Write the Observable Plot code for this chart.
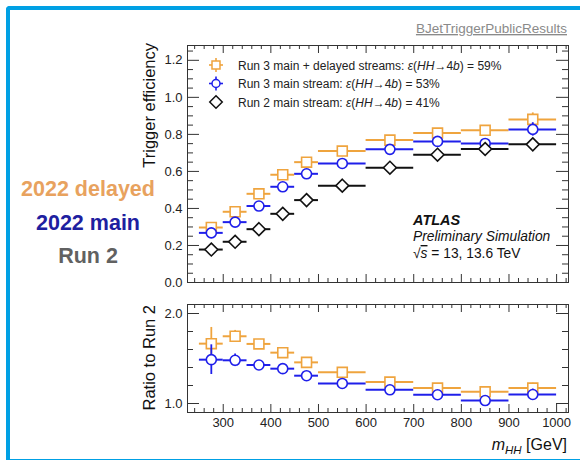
<!DOCTYPE html>
<html><head><meta charset="utf-8">
<script src="https://cdn.jsdelivr.net/npm/d3@7"></script>
<script src="https://cdn.jsdelivr.net/npm/@observablehq/plot@0.6"></script>
<style>
body{margin:0;background:#fff;}
#wrap{position:relative;width:580px;height:460px;overflow:hidden;background:#fff;font-family:"Liberation Sans",Arial,Helvetica,sans-serif;}
#border{position:absolute;left:6px;top:6px;width:600px;height:449px;border-top:4px solid #00A0E4;border-left:4px solid #00A0E4;border-bottom:2px solid #00A0E4;border-top-left-radius:4px;}
#wrap svg{position:absolute;left:0;}
</style></head>
<body><div id="wrap"><div id="border"></div></div>
<script>
// ---------------- data ----------------
const binLo = [250, 300, 350, 400, 450, 500, 600, 700, 800, 900];
const binHi = [300, 350, 400, 450, 500, 600, 700, 800, 900, 1000];

const effDelayed = [0.297, 0.382, 0.479, 0.582, 0.650, 0.710, 0.769, 0.807, 0.822, 0.881];
const errDelayed = [0.010, 0.010, 0.008, 0.008, 0.008, 0.006, 0.006, 0.008, 0.012, 0.035];
const effMain    = [0.268, 0.326, 0.413, 0.517, 0.587, 0.643, 0.719, 0.762, 0.751, 0.827];
const errMain    = [0.010, 0.010, 0.008, 0.008, 0.008, 0.006, 0.006, 0.008, 0.012, 0.036];
const effRun2    = [0.178, 0.220, 0.288, 0.371, 0.445, 0.523, 0.620, 0.690, 0.721, 0.746];
const errRun2    = [0.008, 0.008, 0.008, 0.008, 0.008, 0.006, 0.006, 0.008, 0.010, 0.012];

const ratioDelayed    = [1.665, 1.747, 1.662, 1.565, 1.457, 1.346, 1.238, 1.171, 1.130, 1.171];
const ratioDelayedErr = [0.180, 0.065, 0.030, 0.025, 0.025, 0.020, 0.020, 0.020, 0.025, 0.055];
const ratioMain       = [1.487, 1.480, 1.428, 1.387, 1.309, 1.223, 1.152, 1.097, 1.033, 1.100];
const ratioMainErr    = [0.165, 0.070, 0.030, 0.025, 0.025, 0.020, 0.020, 0.020, 0.025, 0.060];

const yTopTicks = [0.0, 0.2, 0.4, 0.6, 0.8, 1.0, 1.2];
const yBotTicks = [1.0, 2.0];
const xTicks = [300, 400, 500, 600, 700, 800, 900, 1000];

const legendLabels = [
  {pre: "Run 3 main + delayed streams: ", val: "59%"},
  {pre: "Run 3 main stream: ", val: "53%"},
  {pre: "Run 2 main stream: ", val: "41%"}
];
const sideLabels = ["2022 delayed", "2022 main", "Run 2"];

// ---------------- style ----------------
const ORANGE = "#EFA43E", BLUE = "#1F1FEA", BLACK = "#111111";
const FONT = '"Liberation Sans", Arial, Helvetica, sans-serif';
const W = 580, ML = 187, MR = 12;
const FW = W - ML - MR;
const xDomain = [225, 1025];

function series(v, e) {
  return binLo.map((l, i) => ({lo: l, hi: binHi[i], x: (l + binHi[i]) / 2, y: v[i], e: e[i]}));
}
function seriesMarks(data, color, symbol, r) {
  return [
    Plot.ruleY(data, {x1: "lo", x2: "hi", y: "y", stroke: color, strokeWidth: 2}),
    Plot.ruleX(data, {x: "x", y1: d => d.y - d.e, y2: d => d.y + d.e, stroke: color, strokeWidth: 1.8}),
    Plot.dot(data, {x: "x", y: "y", symbol, r, fill: "white", stroke: color, strokeWidth: 1.6})
  ];
}
function tickMarks(yMaj, yMin, FH, yMajLen, yMinLen, xMajLen, xMinLen) {
  const xMaj = d3.range(300, 1001, 100);
  const xMin = d3.range(240, 1021, 20).filter(v => v % 100 !== 0);
  const st = {stroke: "#333", strokeWidth: 1};
  return [
    Plot.ruleY(yMaj, {y: d => d, insetRight: FW - yMajLen, ...st}),
    Plot.ruleY(yMaj, {y: d => d, insetLeft: FW - yMajLen, ...st}),
    Plot.ruleY(yMin, {y: d => d, insetRight: FW - yMinLen, ...st}),
    Plot.ruleY(yMin, {y: d => d, insetLeft: FW - yMinLen, ...st}),
    Plot.ruleX(xMaj, {x: d => d, insetTop: FH - xMajLen, ...st}),
    Plot.ruleX(xMaj, {x: d => d, insetBottom: FH - xMajLen, ...st}),
    Plot.ruleX(xMin, {x: d => d, insetTop: FH - xMinLen, ...st}),
    Plot.ruleX(xMin, {x: d => d, insetBottom: FH - xMinLen, ...st})
  ];
}

const sDel = series(effDelayed, errDelayed);
const sMain = series(effMain, errMain);
const sRun2 = series(effRun2, errRun2);
const rDel = series(ratioDelayed, ratioDelayedErr);
const rMain = series(ratioMain, ratioMainErr);

const wrap = document.getElementById("wrap");

// ---------------- background labels ----------------
const bg = d3.select(wrap).append("svg").attr("width", W).attr("height", 460).style("top", "0px");
bg.append("text").attr("x", 567).attr("y", 33).attr("text-anchor", "end")
  .attr("font-family", FONT).attr("font-size", 13.5).attr("fill", "#8a8a8a")
  .style("text-decoration", "underline").text("BJetTriggerPublicResults");
const sideColors = ["#E8A25E", "#1E20A0", "#616161"];
const sideY = [196, 230, 263];
sideLabels.forEach((t, i) => {
  bg.append("text").attr("x", 88).attr("y", sideY[i]).attr("text-anchor", "middle")
    .attr("font-family", FONT).attr("font-size", 21.5).attr("font-weight", "bold")
    .attr("fill", sideColors[i]).text(t);
});

// ---------------- top panel ----------------
const topFH = 282 - 45;
const topPlot = Plot.plot({
  width: W, height: 290, marginLeft: ML, marginRight: MR, marginTop: 45, marginBottom: 8,
  style: {fontFamily: FONT, fontSize: "13px", color: "#222", background: "transparent"},
  x: {domain: xDomain, axis: null},
  y: {domain: [0, 1.28], ticks: yTopTicks, tickSize: 0, tickPadding: 5, tickFormat: d3.format(".1f"), label: null},
  marks: [
    ...tickMarks(yTopTicks, d3.range(0.05, 1.26, 0.05).filter(v => Math.abs(v * 5 - Math.round(v * 5)) > 1e-6), topFH, 12, 6, 8, 4),
    ...seriesMarks(sDel, ORANGE, "square", 5.6),
    ...seriesMarks(sMain, BLUE, "circle", 5),
    ...seriesMarks(sRun2, BLACK, "diamond2", 5.8),
    Plot.frame({stroke: "#333", strokeWidth: 1})
  ]
});
topPlot.style.top = "0px";
wrap.appendChild(topPlot);
const ts = d3.select(topPlot);

ts.append("text").attr("transform", "translate(154.5,43) rotate(-90)").attr("text-anchor", "end")
  .attr("font-family", FONT).attr("font-size", 16.5).attr("fill", "#111").text("Trigger efficiency");

// legend
const legColors = [ORANGE, BLUE, BLACK];
const legSym = [d3.symbolSquare, d3.symbolCircle, d3.symbolDiamond2];
const legSize = [64, 50, 100];
const legY = [65, 83.5, 102];
legendLabels.forEach((L, i) => {
  const g = ts.append("g").attr("transform", `translate(216,${legY[i]})`);
  if (i < 2) {
    g.append("line").attr("x1", -7).attr("x2", 7).attr("stroke", legColors[i]).attr("stroke-width", 1.6);
    g.append("line").attr("y1", -7).attr("y2", 7).attr("stroke", legColors[i]).attr("stroke-width", 1.6);
  }
  g.append("path").attr("d", d3.symbol(legSym[i], legSize[i])()).attr("fill", "white")
    .attr("stroke", legColors[i]).attr("stroke-width", 1.5);
  const t = ts.append("text").attr("x", 238).attr("y", legY[i] + 4.5).attr("text-anchor", "start")
    .attr("font-family", FONT).attr("font-size", 12).attr("fill", "#222");
  t.append("tspan").text(L.pre);
  t.append("tspan").attr("font-style", "italic").text("ε");
  t.append("tspan").text("(");
  t.append("tspan").attr("font-style", "italic").text("HH");
  t.append("tspan").text("→4");
  t.append("tspan").attr("font-style", "italic").text("b");
  t.append("tspan").text(") = " + L.val);
});

// ATLAS label
ts.append("text").attr("x", 413).attr("y", 225).attr("text-anchor", "start").attr("font-family", FONT).attr("font-size", 14.5)
  .attr("font-weight", "bold").attr("font-style", "italic").attr("fill", "#111").text("ATLAS");
ts.append("text").attr("x", 413).attr("y", 241).attr("text-anchor", "start").attr("font-family", FONT).attr("font-size", 13.8)
  .attr("font-style", "italic").attr("fill", "#111").text("Preliminary Simulation");
const sq = ts.append("text").attr("x", 413).attr("y", 258).attr("text-anchor", "start").attr("font-family", FONT).attr("font-size", 13.8).attr("fill", "#111");
sq.append("tspan").text("√");
sq.append("tspan").attr("font-style", "italic").style("text-decoration", "overline").text("s");
sq.append("tspan").text(" = 13, 13.6 TeV");

// ---------------- bottom panel ----------------
const botFH = 412 - 304;
const botPlot = Plot.plot({
  width: W, height: 170, marginLeft: ML, marginRight: MR, marginTop: 14, marginBottom: 48,
  style: {fontFamily: FONT, fontSize: "13px", color: "#222", background: "transparent"},
  x: {domain: xDomain, ticks: xTicks, tickSize: 0, tickPadding: 5, tickFormat: d3.format("d"), label: null},
  y: {domain: [0.9, 2.1], ticks: yBotTicks, tickSize: 0, tickPadding: 5, tickFormat: d3.format(".1f"), label: null},
  marks: [
    ...tickMarks(yBotTicks, [1.2, 1.4, 1.6, 1.8], botFH, 12, 6, 8, 4),
    ...seriesMarks(rDel, ORANGE, "square", 5.6),
    ...seriesMarks(rMain, BLUE, "circle", 5),
    Plot.frame({stroke: "#333", strokeWidth: 1})
  ]
});
botPlot.style.top = "290px";
wrap.appendChild(botPlot);
const bs = d3.select(botPlot);
bs.append("text").attr("transform", "translate(154.5,15) rotate(-90)").attr("text-anchor", "end")
  .attr("font-family", FONT).attr("font-size", 16.5).attr("fill", "#111").text("Ratio to Run 2");
const xl = bs.append("text").attr("x", 567).attr("y", 160).attr("text-anchor", "end")
  .attr("font-family", FONT).attr("font-size", 16).attr("fill", "#111");
xl.append("tspan").attr("font-style", "italic").text("m");
xl.append("tspan").attr("font-style", "italic").attr("font-size", 11.5).attr("dy", 4).text("HH");
xl.append("tspan").attr("dy", -4).text(" [GeV]");
</script>
</body></html>
